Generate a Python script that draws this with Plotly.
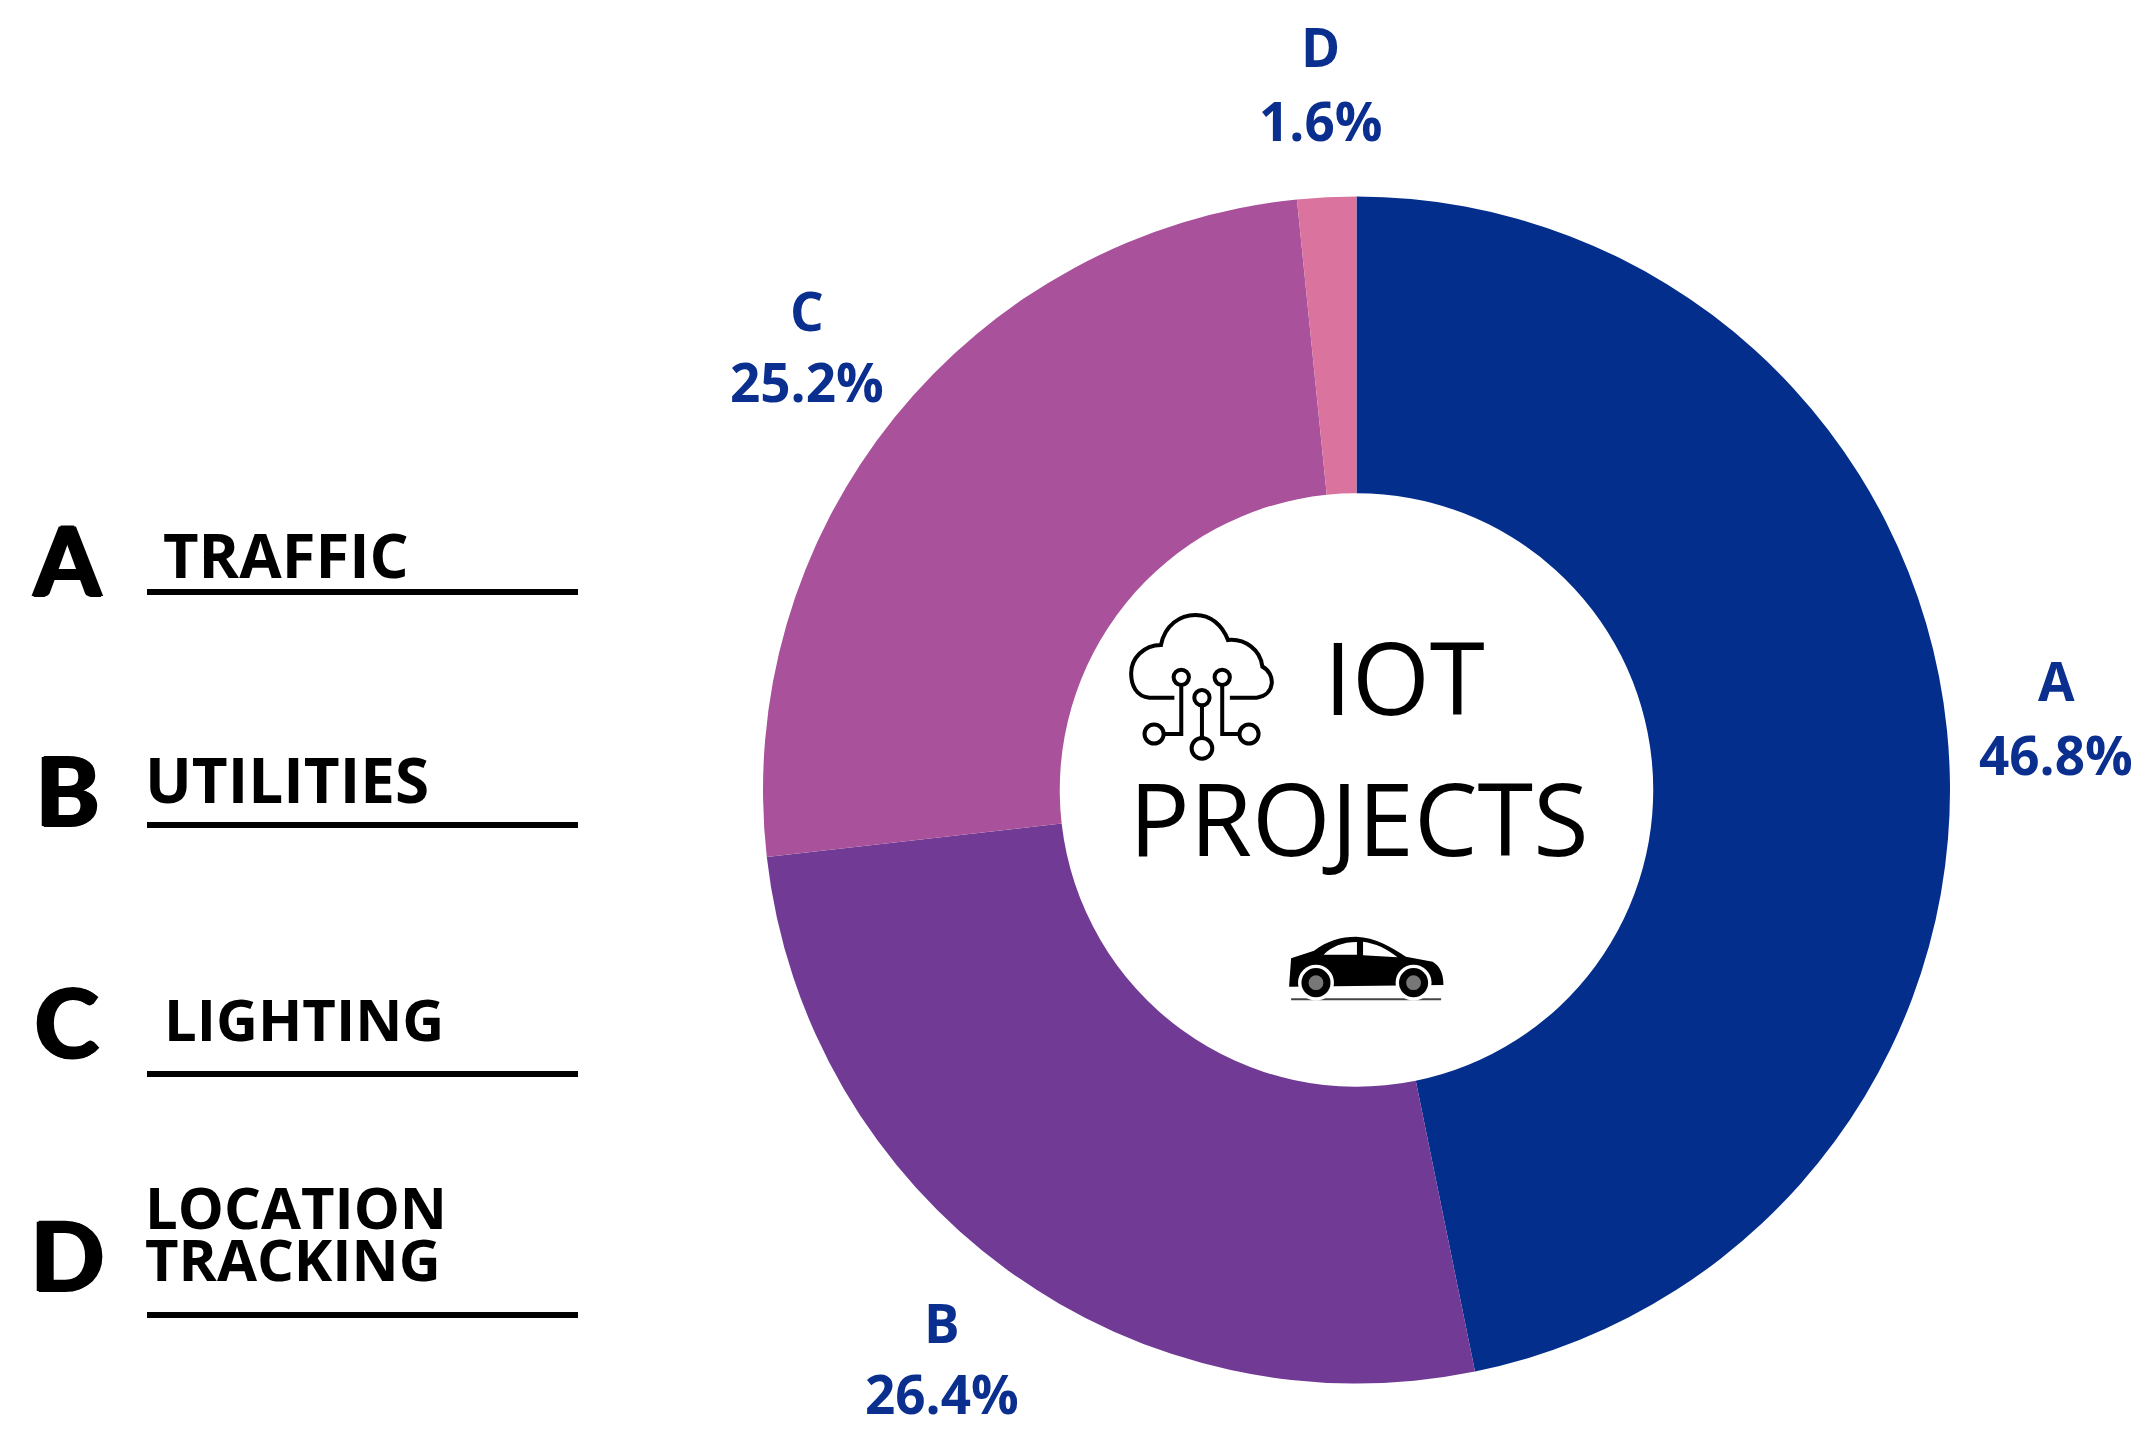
#!/usr/bin/env python3
"""Donut chart of IoT project shares with a hand drawn legend and centre icons"""

import plotly.graph_objects as go

W, H = 2153, 1448
PAGE_MARGIN = 8  # browser body margin around the plot div

# chart data
categories = ['A', 'B', 'C', 'D']
shares = [46.8, 26.4, 25.2, 1.6]
slice_colors = ['#042E8C', '#703A95', '#A9529B', '#DB739F']
legend_names = [['TRAFFIC'], ['UTILITIES'], ['LIGHTING'], ['LOCATION', 'TRACKING']]

BLUE = '#0B2F8F'
PLOT_W, PLOT_H = W - 2 * PAGE_MARGIN, H - 2 * PAGE_MARGIN


def px(x, y):
    """Page pixel position to paper coordinates"""
    return (x - PAGE_MARGIN) / PLOT_W, 1 - (y - PAGE_MARGIN) / PLOT_H


def iz(x, y):
    """Position in the icon sketch to page pixels"""
    return 1050 + x / 2.613, 580 + y / 3.0


def path(points, close=False):
    parts = []
    for cmd, pts in points:
        coords = ['%.5f,%.5f' % px(*iz(*p)) for p in pts]
        if cmd == 'L':
            # plotly wants one L per point
            parts.extend('L ' + c for c in coords)
        else:
            parts.append(cmd + ' ' + ' '.join(coords))
    return ' '.join(parts) + (' Z' if close else '')


def text(fig, x, y, s, size, family='Open Sans', weight=700, color='black', anchor='center', shadow='none'):
    xp, yp = px(x, y)
    fig.add_annotation(x=xp, y=yp, xref='paper', yref='paper', text=s, showarrow=False,
                       xanchor=anchor, yanchor='middle', borderpad=0,
                       font=dict(family=family, size=size, color=color, weight=weight, shadow=shadow))


def circle(fig, cx, cy, r, fill='white', line='black', width=4):
    mx, my = iz(cx, cy)
    rp = r / 2.613
    x0, y0 = px(mx - rp, my + rp)
    x1, y1 = px(mx + rp, my - rp)
    fig.add_shape(type='circle', xref='paper', yref='paper', x0=x0, y0=y0, x1=x1, y1=y1,
                  fillcolor=fill, line=dict(color=line, width=width))


def stroke(fig, points, width=4, color='black'):
    fig.add_shape(type='path', xref='paper', yref='paper', path=path(points),
                  line=dict(color=color, width=width))


def fill(fig, points, color='black'):
    fig.add_shape(type='path', xref='paper', yref='paper', path=path(points, close=True),
                  fillcolor=color, line=dict(color=color, width=0))


fig = go.Figure()

# donut
cx, cy, r = 1356.5, 790, 593.5
x0, y0 = px(cx - r, cy + r)
x1, y1 = px(cx + r, cy - r)
fig.add_trace(go.Pie(
    labels=categories, values=shares, hole=0.5, sort=False, direction='clockwise', rotation=0,
    marker=dict(colors=slice_colors, line=dict(width=0)),
    textinfo='none', showlegend=False,
    domain=dict(x=[x0, x1], y=[y0, y1]),
))

# slice labels
label_pos = [(2056, 681, 754), (942, 1322, 1393), (807, 310, 381), (1320, 46, 120)]
for cat, share, (lx, ly1, ly2) in zip(categories, shares, label_pos):
    text(fig, lx, ly1, cat, 53, color=BLUE)
    text(fig, lx, ly2, '%.1f%%' % share, 53, color=BLUE)

# legend on the left
letter_pos = [(67, 558), (67, 789), (67, 1021), (67, 1253)]
line_y = [592, 825, 1074, 1315]
name_pos = [[(162, 554)], [(144, 779)], [(163, 1018)], [(144, 1206), (144, 1258)]]
name_sizes = [[61.5], [62], [58], [58, 58]]
for cat, names, (ax, ay), ly, poss, sizes in zip(categories, legend_names, letter_pos, line_y,
                                                 name_pos, name_sizes):
    text(fig, ax, ay, cat, 96, family='Lato', weight=700,
         shadow='2px 0 0 black, -2px 0 0 black, 0 1px 0 black, 0 -1px 0 black')
    for name, (nx, ny), size in zip(names, poss, sizes):
        text(fig, nx, ny, name, size, weight=700, anchor='left')
    x0, y0 = px(147, ly)
    x1, _ = px(578, ly)
    fig.add_shape(type='line', xref='paper', yref='paper', x0=x0, y0=y0, x1=x1, y1=y0,
                  line=dict(color='black', width=6))

# centre text
text(fig, 1404, 676, 'IOT', 100, weight=400)
text(fig, 1359, 817, 'PROJECTS', 101, weight=400)

# cloud icon
stroke(fig, [('M', [(325, 353)]), ('L', [(260, 353)]),
             ('C', [(225, 350), (212, 315), (212, 280)]),
             ('C', [(212, 235), (245, 195), (290, 195)]),
             ('C', [(300, 135), (340, 105), (380, 105)]),
             ('C', [(420, 105), (450, 135), (465, 180)]),
             ('C', [(510, 175), (550, 210), (555, 260)]),
             ('C', [(590, 280), (590, 345), (540, 353)]),
             ('L', [(470, 353)])])
stroke(fig, [('M', [(343, 312)]), ('L', [(343, 462), (297, 462)])])
stroke(fig, [('M', [(450, 312)]), ('L', [(450, 462), (495, 462)])])
stroke(fig, [('M', [(397, 373)]), ('L', [(397, 478)])])
for ncx, ncy, nr in [(343, 292, 20), (450, 292, 20), (397, 353, 20),
                     (272, 462, 25), (520, 462, 25), (397, 505, 27)]:
    circle(fig, ncx, ncy, nr)

# car icon
stroke(fig, [('M', [(630, 1258)]), ('L', [(1022, 1258)])], width=2, color='#444444')
fill(fig, [('M', [(625, 1215)]), ('L', [(630, 1135), (690, 1112)]),
           ('C', [(725, 1082), (760, 1070), (800, 1070)]),
           ('C', [(850, 1072), (890, 1100), (930, 1130)]),
           ('L', [(1000, 1145)]),
           ('C', [(1020, 1160), (1028, 1180), (1028, 1215)]),
           ('L', [(625, 1220)])])
fill(fig, [('M', [(715, 1124)]), ('L', [(802, 1124), (802, 1086)]),
           ('C', [(765, 1086), (735, 1100), (715, 1124)])], color='white')
fill(fig, [('M', [(818, 1085)]), ('L', [(818, 1126), (908, 1132)]),
           ('C', [(880, 1105), (850, 1090), (818, 1085)])], color='white')
for wx in (695, 950):
    circle(fig, wx, 1208, 47, fill='white', line='white', width=0)
    circle(fig, wx, 1208, 38, fill='black', line='black', width=0)
    circle(fig, wx, 1208, 22, fill='#777777', line='black', width=2)

fig.update_layout(width=PLOT_W, height=PLOT_H, margin=dict(l=0, r=0, t=0, b=0),
                  paper_bgcolor='white', plot_bgcolor='white')

fig.write_html("out.html")
